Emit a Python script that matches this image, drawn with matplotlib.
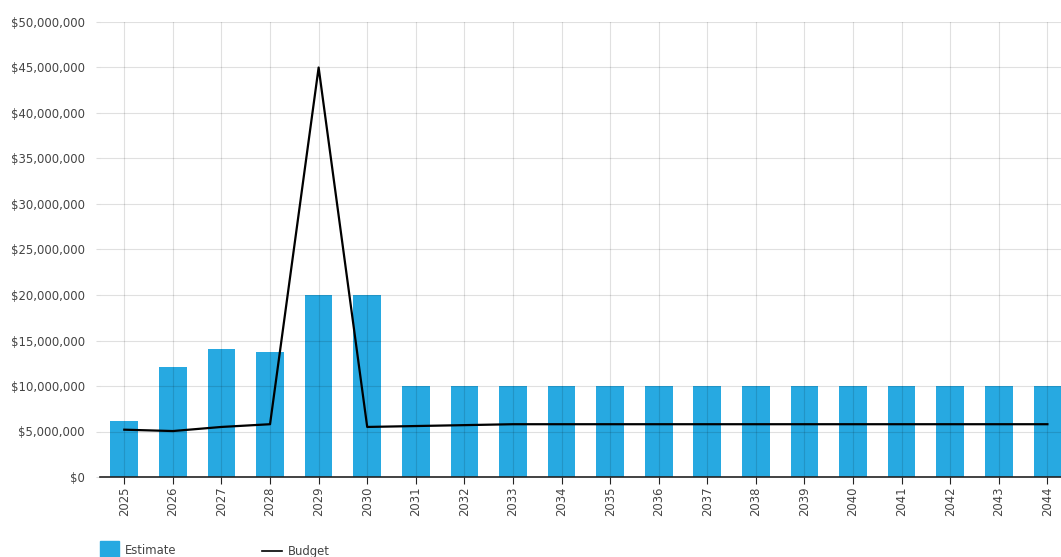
import matplotlib.pyplot as plt
from matplotlib.patches import Rectangle
from matplotlib.lines import Line2D
from matplotlib.ticker import FuncFormatter, MultipleLocator

years = [str(y) for y in range(2025, 2045)]
estimate = [6.2, 12.1, 14.1, 13.7, 20.0, 20.0] + [10.0] * 14
budget = [5.2, 5.05, 5.5, 5.8, 45.0, 5.5, 5.6, 5.7] + [5.8] * 12
estimate = [v * 1e6 for v in estimate]
budget = [v * 1e6 for v in budget]

barColor = "#27a9e1"
textColor = "#444444"

fig = plt.figure(figsize=(10.61, 5.57), dpi=100)
ax = fig.add_axes([100 / 1061, 80 / 557, 961 / 1061, 455 / 557])

x = list(range(len(years)))
ax.bar(x, estimate, width=0.57, color=barColor, zorder=2)
ax.plot(x, budget, color="black", linewidth=1.6, zorder=4)

# сетка поверх столбцов, полупрозрачная
ax.set_axisbelow(False)
ax.grid(True, color="black", alpha=0.12, linewidth=0.8, zorder=3)

ax.set_xlim(-0.5, 19.28)
ax.set_ylim(0, 50e6)
ax.yaxis.set_major_locator(MultipleLocator(5e6))
ax.yaxis.set_major_formatter(FuncFormatter(lambda v, p: f"${v:,.0f}"))
ax.set_xticks(x, years, rotation=90)

for s in ["top", "right", "left"]:
    ax.spines[s].set_visible(False)
ax.spines["bottom"].set_color("#222222")
ax.spines["bottom"].set_linewidth(1.2)
ax.spines["bottom"].set_zorder(5)

ax.tick_params(axis="y", length=3, color="#dddddd", labelsize=8.4, labelcolor=textColor, pad=8)
ax.tick_params(axis="x", length=5, color="#222222", labelsize=8.4, labelcolor=textColor, pad=2)

# легенда внизу (обрезана краем)
fig.add_artist(Rectangle((100 / 1061, -4 / 557), 19 / 1061, 20 / 557,
                         transform=fig.transFigure, color=barColor))
fig.text(125 / 1061, 6 / 557, "Estimate", fontsize=8.4, color=textColor, va="center")
fig.add_artist(Line2D([262 / 1061, 282 / 1061], [6 / 557, 6 / 557],
                      transform=fig.transFigure, color="black", linewidth=1.2))
fig.text(288 / 1061, 6 / 557, "Budget", fontsize=8.4, color=textColor, va="center")

fig.savefig("out.png", dpi=100)
